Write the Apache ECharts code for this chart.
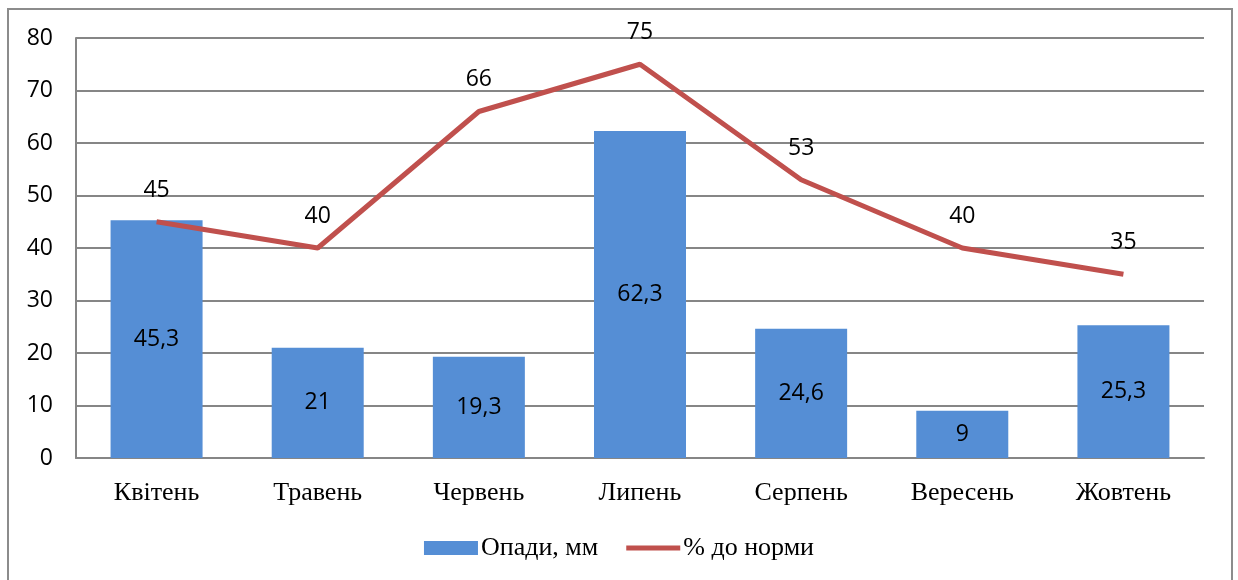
<!DOCTYPE html>
<html>
<head>
<meta charset="utf-8">
<script src="https://cdn.jsdelivr.net/npm/echarts@6/dist/echarts.min.js"></script>
<style>
	html, body { margin: 0; padding: 0; background: #fff; }
	#main { width: 1238px; height: 580px; }
</style>
</head>
<body>
<div id="main"></div>
<script>
	var months = ['Квітень', 'Травень', 'Червень', 'Липень', 'Серпень', 'Вересень', 'Жовтень'];
	var rainfall = [45.3, 21, 19.3, 62.3, 24.6, 9, 25.3];
	var percentOfNorm = [45, 40, 66, 75, 53, 40, 35];

	var chart = echarts.init(document.getElementById('main'));
	var sans = '"Open Sans", "Liberation Sans", sans-serif';
	var serif = '"Liberation Serif", "DejaVu Serif", serif';

	var option = {
		animation: false,
		graphic: [{
			type: 'rect',
			shape: { x: 8, y: 9, width: 1224, height: 580 },
			style: { fill: 'none', stroke: '#8c8c8c', lineWidth: 2 },
			silent: true
		}],
		grid: { left: 76, right: 34, top: 38, bottom: 122 },
		legend: {
			top: 530,
			left: 'center',
			itemGap: 28,
			itemWidth: 54,
			itemHeight: 14,
			textStyle: { fontFamily: serif, fontSize: 26, color: '#000', padding: [0, 0, 0, -2] },
			data: [
				{ name: 'Опади, мм', icon: 'rect' },
				{ name: '% до норми', icon: 'path://M0,0L54,0L54,5L0,5Z' }
			]
		},
		xAxis: {
			type: 'category',
			data: months,
			axisLine: { lineStyle: { color: '#868686', width: 2 } },
			axisTick: { show: false },
			axisLabel: { fontFamily: serif, fontSize: 26, color: '#000', margin: 22 }
		},
		yAxis: {
			type: 'value',
			min: 0,
			max: 80,
			interval: 10,
			axisLine: { show: true, lineStyle: { color: '#868686', width: 2 } },
			axisTick: { show: false },
			splitLine: { lineStyle: { color: '#868686', width: 2 } },
			axisLabel: { fontFamily: sans, fontSize: 23, color: '#000', margin: 23 }
		},
		series: [
			{
				name: 'Опади, мм',
				type: 'bar',
				data: rainfall,
				barWidth: 92,
				itemStyle: { color: '#558ED5' },
				label: {
					show: true,
					position: 'inside',
					fontFamily: sans,
					fontSize: 23,
					color: '#000',
					formatter: function (p) { return String(p.value).replace('.', ','); }
				}
			},
			{
				name: '% до норми',
				type: 'line',
				data: percentOfNorm,
				symbol: 'circle',
				symbolSize: 0.1,
				lineStyle: { color: '#C0504D', width: 5 },
				itemStyle: { color: '#C0504D' },
				label: {
					show: true,
					position: 'top',
					distance: 20,
					fontFamily: sans,
					fontSize: 23,
					color: '#000'
				}
			}
		]
	};

	chart.setOption(option);
</script>
</body>
</html>
